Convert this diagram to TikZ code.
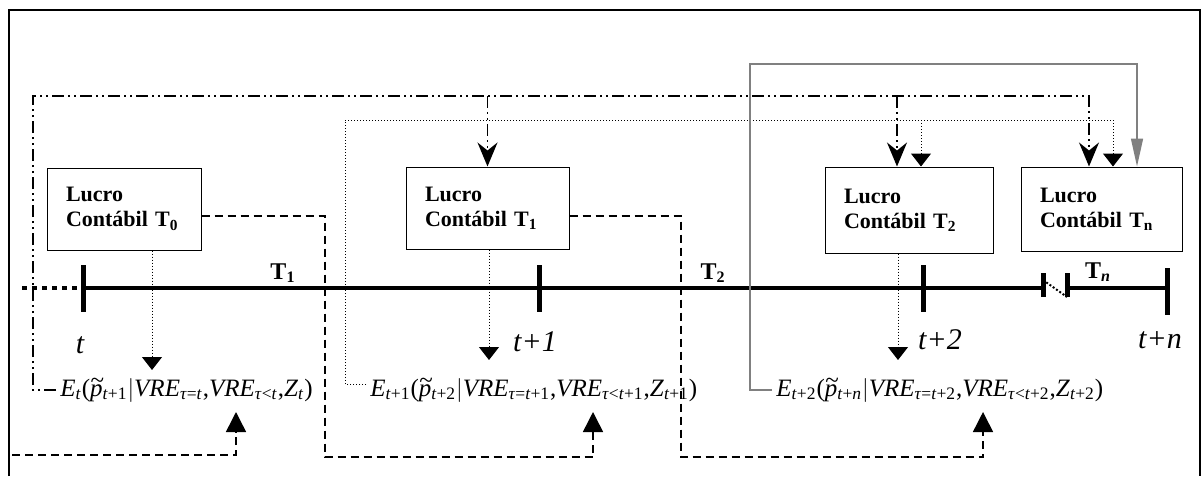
\documentclass[tikz,border=0pt]{standalone}
\usepackage{fontspec}
\setmainfont{Liberation Serif}
\usetikzlibrary{arrows.meta}
\newcommand{\sbx}[1]{\textsubscript{#1}}
\newcommand{\VRE}{\textit{VRE}}
\newcommand{\tp}{\makebox[0pt][l]{\raisebox{0.33em}{\kern0.02em\textasciitilde}}\textit{p}}

\begin{document}
\begin{tikzpicture}[
    x=0.5pt, y=-0.5pt,
    lbox/.style={draw, line width=0.5pt, minimum height=41pt, inner xsep=9.5pt, align=left, text width=#1, font=\fontsize{11}{12.5}\selectfont\bfseries},
    expr/.style={inner sep=2pt, font=\fontsize{12.5}{15}\selectfont},
    tlab/.style={font=\fontsize{15}{17}\selectfont\itshape},
    plab/.style={font=\fontsize{12}{14}\selectfont\bfseries},
    axis/.style={line width=2pt},
    tick/.style={line width=2.5pt},
    dashln/.style={line width=0.75pt, dash pattern=on 4pt off 2.5pt},
    ddln/.style={line width=0.75pt, dash pattern=on 6pt off 2pt on 1pt off 2pt on 1pt off 2pt},
    dotln/.style={line width=0.5pt, dash pattern=on 0.5pt off 1pt},
    grayln/.style={line width=0.75pt, gray}
]
    \useasboundingbox (0,0) rectangle (1203,476);
    \draw[line width=1pt] (9,476) -- (9,10) -- (1200,10) -- (1200,476);

    % linha do tempo
    \coordinate (k00) at (22,288);
    \coordinate (k0) at (83,288);
    \coordinate (k1) at (539,288);
    \coordinate (k2) at (923,288);
    \coordinate (kb1) at (1043,288);
    \coordinate (kb2) at (1067,288);
    \coordinate (kn) at (1167,288);
    \draw[axis, dash pattern=on 2.5pt off 2.5pt] (k00) -- (k0);
    \draw[axis] (k0) -- (kb1);
    \draw[axis] (kb2) -- (kn);
    \foreach \k in {k0,k1,k2}
        \draw[tick] ([yshift=11.5pt]\k) -- ([yshift=-12pt]\k);
    \draw[tick] ([yshift=10pt]kn) -- ([yshift=-13.5pt]kn);
    \foreach \k in {kb1,kb2}
        \draw[tick] ([yshift=7.5pt]\k) -- ([yshift=-4.5pt]\k);
    \draw[dotln, line width=1pt, dash pattern=on 1pt off 1pt] ([yshift=4pt]kb1) -- ([yshift=-4.5pt]kb2);

    \node[plab] (p1) at (283,273) {T\textsubscript{1}};
    \node[plab] (p2) at (713,273) {T\textsubscript{2}};
    \node[plab] (pn) at (1098,272) {T\textsubscript{\textit{n}}};
    \node[tlab] (lt0) at (80,345) {t};
    \node[tlab] (lt1) at (535,342) {t+1};
    \node[tlab] (lt2) at (940,340) {t+2};
    \node[tlab] (ltn) at (1160,340) {t+n};

    % caixas
    \node[lbox=58pt] (b0) at (124,209) {Lucro\\Contábil T\textsubscript{0}};
    \node[lbox=62.5pt] (b1) at (487.5,208) {Lucro\\Contábil T\textsubscript{1}};
    \node[lbox=65pt, minimum height=43pt] (b2) at (909,210) {Lucro\\Contábil T\textsubscript{2}};
    \node[lbox=61.5pt, minimum height=42pt] (bn) at (1101.5,209) {Lucro\\Contábil T\textsubscript{n}};

    % expectativas
    \node[expr, anchor=west] (e0) at (56,390)
        {\textit{E}\sbx{\textit{t}}(\tp\sbx{\textit{t}+1}$\big|$\VRE\sbx{\textit{τ}=\textit{t}},\VRE\sbx{\textit{τ}<\textit{t}},\textit{Z}\sbx{\textit{t}})};
    \node[expr, anchor=west] (e1) at (366,390)
        {\textit{E}\sbx{\textit{t}+1}(\tp\sbx{\textit{t}+2}$\big|$\VRE\sbx{\textit{τ}=\textit{t}+1},\VRE\sbx{\textit{τ}<\textit{t}+1},\textit{Z}\sbx{\textit{t}+1})};
    \node[expr, anchor=west] (e2) at (772,390)
        {\textit{E}\sbx{\textit{t}+2}(\tp\sbx{\textit{t}+\textit{n}}$\big|$\VRE\sbx{\textit{τ}=\textit{t}+2},\VRE\sbx{\textit{τ}<\textit{t}+2},\textit{Z}\sbx{\textit{t}+2})};

    \coordinate (dd0) at (33,96);
    \coordinate (dd2) at (897,96);
    \coordinate (dd3) at (1089,96);
    \draw[ddln, -{Stealth[length=12pt, width=10pt, inset=4pt]}] (e0.west) -| (dd0) -| (dd3 |- bn.north);
    \draw[ddln, -{Stealth[length=12pt, width=10pt, inset=4pt]}] (dd0 -| b1.north) -- (b1.north);
    \draw[ddln, -{Stealth[length=12pt, width=10pt, inset=4pt]}] (dd2) -- (dd2 |- b2.north);

    \coordinate (dt0) at (345,120);
    \coordinate (dt2) at (921,120);
    \coordinate (dt3) at (1113,120);
    \draw[dotln, -{Triangle[length=6.5pt, width=10pt]}] ([yshift=3pt]e1.west) -| (dt0) -| (dt3 |- bn.north);
    \draw[dotln, -{Triangle[length=6.5pt, width=10pt]}] (dt2) -- (dt2 |- b2.north);

    \coordinate (g0) at (750,64);
    \coordinate (g1) at (1137,64);
    \draw[grayln, -{Triangle[length=14pt, width=6pt]}] (e2.west) -| (g0) -| (g1 |- bn.north);

    \coordinate (v0) at (152,370);
    \coordinate (v1) at (489,360);
    \coordinate (v2) at (898,360);
    \draw[dotln, -{Triangle[length=6.5pt, width=10pt]}] (v0 |- b0.south) -- (v0);
    \draw[dotln, -{Triangle[length=6.5pt, width=10pt]}] (v1 |- b1.south) -- (v1);
    \draw[dotln, -{Triangle[length=6.5pt, width=10pt]}] (v2 |- b2.south) -- (v2);

    \coordinate (dl) at (12,455);
    \coordinate (u0) at (236,412);
    \coordinate (d0) at (325,457);
    \coordinate (u1) at (593,412);
    \coordinate (d1) at (681,457);
    \coordinate (u2) at (983,412);
    \draw[dashln, -{Triangle[length=10pt, width=10pt]}] (dl) -| (u0);
    \draw[dashln, -{Triangle[length=10pt, width=10pt]}] ([yshift=-3.5pt]b0.east) -| (d0) -| (u1);
    \draw[dashln, -{Triangle[length=10pt, width=10pt]}] ([yshift=-4pt]b1.east) -| (d1) -| (u2);
\end{tikzpicture}
\end{document}
